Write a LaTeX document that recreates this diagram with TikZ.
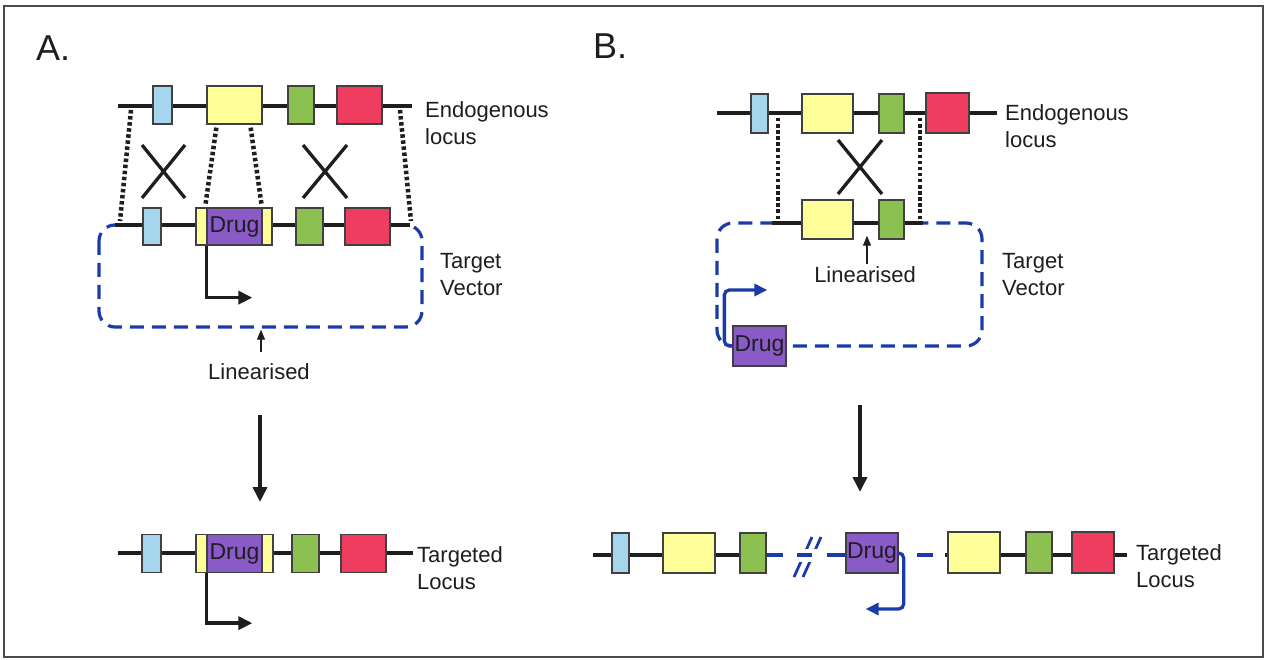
\documentclass[tikz,border=0pt]{standalone}
\usepackage{fontspec}
\setmainfont{Liberation Sans}
\usetikzlibrary{arrows.meta,calc}
\definecolor{gblue}{HTML}{A6D6EE}
\definecolor{gyellow}{HTML}{FFFF99}
\definecolor{ggreen}{HTML}{8CC152}
\definecolor{gred}{HTML}{EE3D5F}
\definecolor{gdrug}{HTML}{8A5AC6}
\definecolor{vblue}{HTML}{1B3BA8}
\definecolor{ink}{HTML}{1E1E22}

\begin{document}
\begin{tikzpicture}[x=1pt,y=-1pt,
  locus/.style={line width=3.5pt, draw=ink},
  gene/.style={draw=ink!85, line width=1.3pt, inner sep=0pt, minimum height=38pt},
  drugbox/.style={gene, fill=gdrug, font=\fontsize{23}{23}\selectfont, text=ink},
  label/.style={font=\fontsize{22}{27}\selectfont, text=ink, align=left, anchor=west, inner sep=0pt},
  centred/.style={font=\fontsize{22}{27}\selectfont, text=ink, inner sep=0pt},
  panel/.style={font=\fontsize{36}{36}\selectfont, text=ink, anchor=west, inner sep=0pt},
  homol/.style={line width=4.5pt, draw=ink, dash pattern=on 3.5pt off 2.6pt},
  cross/.style={line width=3.3pt, draw=ink},
  vector/.style={line width=3.2pt, draw=vblue, dash pattern=on 14pt off 8pt, rounded corners=16pt},
  promoter/.style={line width=3.5pt, draw=ink, -{Triangle[length=14pt,width=13pt]}},
  vpromoter/.style={line width=3.3pt, draw=vblue, rounded corners=5pt, -{Triangle[length=13pt,width=12pt]}},
  pointer/.style={line width=1.3pt, draw=ink, -{Triangle[length=10pt,width=8pt]}},
  flow/.style={line width=4.5pt, draw=ink, -{Triangle[length=15pt,width=14pt]}},
  vlink/.style={line width=3.3pt, draw=vblue}
]
\useasboundingbox (0,0) rectangle (1269,660);
\fill[white] (0,0) rectangle (1269,660);
\draw[line width=2pt, draw=ink!80] (4,6) rectangle (1263,657);

% ---------------- Panel A ----------------
\node[panel] (labA) at (36,48) {A.};

% endogenous locus
\coordinate (aTopL) at (118,106);
\coordinate (aTopR) at (412,106);
\draw[locus] (aTopL) -- (aTopR);
\node[gene, fill=gblue,   minimum width=19pt] (aT1) at (162.5,105) {};
\node[gene, fill=gyellow, minimum width=55pt] (aT2) at (234.5,105) {};
\node[gene, fill=ggreen,  minimum width=26pt] (aT3) at (301,105) {};
\node[gene, fill=gred,    minimum width=45pt] (aT4) at (359.5,105) {};
\node[label] (aEndo) at (425,123) {Endogenous\\locus};

% target vector
\draw[vector] (99,225) rectangle (422,327);
\coordinate (aVecL) at (115,225);
\coordinate (aVecR) at (410,225);
\draw[locus] (aVecL) -- (aVecR);
\node[gene, fill=gblue,   minimum width=18pt, minimum height=37pt] (aV1) at (152,226.5) {};
\node[gene, fill=gyellow, minimum width=11pt, minimum height=37pt] (aV2) at (201.5,226.5) {};
\node[drugbox, minimum width=55pt, minimum height=37pt] (aVd) at (234.5,226.5) {Drug};
\node[gene, fill=gyellow, minimum width=10pt, minimum height=37pt] (aV3) at (267,226.5) {};
\node[gene, fill=ggreen,  minimum width=27pt, minimum height=37pt] (aV4) at (309.5,226.5) {};
\node[gene, fill=gred,    minimum width=45pt, minimum height=37pt] (aV5) at (367.5,226.5) {};
\node[label] (aTV) at (440,275) {Target\\Vector};

% homology arms
\coordinate (aH1) at (131,110);
\coordinate (aH4) at (400,110);
\draw[homol] (aH1) -- ($(aVecL)+(5,-4)$);
\draw[homol] ($(aT2.south west)+(10,3)$) -- ($(aVd.north west)+(-1,-2)$);
\draw[homol] ($(aT2.south east)+(-12,3)$) -- ($(aVd.north east)+(-1,-2)$);
\draw[homol] (aH4) -- ($(aVecR)+(1,-4)$);

% crossovers
\draw[cross] (142,145) -- (185,198) (142,198) -- (185,145);
\draw[cross] (303,145) -- (347,198) (303,198) -- (347,145);

% promoter
\draw[promoter] (aVd.south west) -- ++(0,52) -- ++(46,0);

% linearisation site
\node[centred] (aLin) at (259,372) {Linearised};
\draw[pointer] ($(aLin.north)+(2,-12)$) -- ++(0,-22);

% outcome
\coordinate (aFlowS) at (260,415);
\coordinate (aFlowE) at (260,502);
\draw[flow] (aFlowS) -- (aFlowE);

\coordinate (cL) at (118,553);
\coordinate (cR) at (413,553);
\draw[locus] (cL) -- (cR);
\node[gene, fill=gblue,   minimum width=19pt] (cA1) at (151.5,553.5) {};
\node[gene, fill=gyellow, minimum width=11pt] (cA2) at (201.5,553.5) {};
\node[drugbox, minimum width=55pt] (cAd) at (234.5,553.5) {Drug};
\node[gene, fill=gyellow, minimum width=11pt] (cA3) at (267.5,553.5) {};
\node[gene, fill=ggreen,  minimum width=27pt] (cA4) at (305.5,553.5) {};
\node[gene, fill=gred,    minimum width=45pt] (cA5) at (363.5,553.5) {};
\node[label] (cTL) at (417,568) {Targeted\\Locus};
\draw[promoter] (cAd.south west) -- ++(0,50) -- ++(46,0);

% ---------------- Panel B ----------------
\node[panel] (labB) at (593,46) {B.};

% endogenous locus
\coordinate (bTopL) at (717,113);
\coordinate (bTopR) at (997,113);
\draw[locus] (bTopL) -- (bTopR);
\node[gene, fill=gblue,   minimum width=17pt, minimum height=39pt] (bT1) at (759.5,113.5) {};
\node[gene, fill=gyellow, minimum width=51pt, minimum height=39pt] (bT2) at (827.5,113.5) {};
\node[gene, fill=ggreen,  minimum width=25pt, minimum height=39pt] (bT3) at (891.5,113.5) {};
\node[gene, fill=gred,    minimum width=43pt, minimum height=40pt] (bT4) at (947.5,113) {};
\node[label] (bEndo) at (1005,126) {Endogenous\\locus};

% target vector
\draw[vector] (717,223) rectangle (982,346);
\coordinate (bVecL) at (772,223);
\coordinate (bVecR) at (923,223);
\draw[locus] (bVecL) -- (bVecR);
\node[gene, fill=gyellow, minimum width=51pt, minimum height=39pt] (bV2) at (827.5,219.5) {};
\node[gene, fill=ggreen,  minimum width=25pt, minimum height=39pt] (bV3) at (891.5,219.5) {};
\node[label] (bTV) at (1002,274.5) {Target\\Vector};

% homology arms and crossover
\coordinate (bH1) at (778,118);
\coordinate (bH2) at (920,118);
\draw[homol] (bH1) -- ($(bH1 |- bVecL)+(0,-2)$);
\draw[homol] (bH2) -- ($(bH2 |- bVecR)+(0,-2)$);
\draw[cross] (838,140) -- (882,194) (838,194) -- (882,140);

% linearisation site
\node[centred] (bLin) at (865,275) {Linearised};
\draw[pointer] ($(bLin.north)+(2,-3)$) -- ++(0,-28);

% selectable drug cassette with its promoter
\node[drugbox, minimum width=53pt, minimum height=40pt] (bD) at (759.5,346) {Drug};
\draw[vpromoter] (bD.west) -- ++(-8,0) -- ++(0,-56) -- ++(43,0);

% outcome
\coordinate (bFlowS) at (860,405);
\coordinate (bFlowE) at (860,492);
\draw[flow] (bFlowS) -- (bFlowE);

% targeted locus: endogenous part on the left
\coordinate (dL) at (593,555);
\coordinate (dLe) at (745,555);
\draw[locus] (dL) -- (dLe);
\node[gene, fill=gblue,   minimum width=17pt, minimum height=40pt] (dB1) at (620.5,553) {};
\node[gene, fill=gyellow, minimum width=52pt, minimum height=40pt] (dB2) at (689,553) {};
\node[gene, fill=ggreen,  minimum width=26pt, minimum height=40pt] (dB3) at (753,553) {};

% inserted vector sequence (blue), with a break symbol
\draw[vlink] (dB3.east |- dL) -- ++(16,0);
\draw[vlink, line width=2.8pt] (794,577) -- (812,537) (803,577) -- (821,537);
\fill[white] (788,549) rectangle (828,561.5);
\draw[vlink] (797,555) -- (812,555);
\draw[vlink] (827,555) -- (845,555);
\node[drugbox, minimum width=52pt, minimum height=40pt] (dBd) at (872,553) {Drug};
\draw[vlink] (917,555) -- (933,555);

% targeted locus: endogenous part on the right
\coordinate (dRs) at (945,555);
\coordinate (dR) at (1127,555);
\draw[locus] (dRs) -- (dR);
\node[gene, fill=gyellow, minimum width=52pt, minimum height=41pt] (dB4) at (974,552.5) {};
\node[gene, fill=ggreen,  minimum width=26pt, minimum height=41pt] (dB5) at (1039,552.5) {};
\node[gene, fill=gred,    minimum width=42pt, minimum height=41pt] (dB6) at (1093,552.5) {};
\node[label] (dTL) at (1136,566) {Targeted\\Locus};

\draw[vpromoter] (dBd.east) -- ++(5,0) -- ++(0,56) -- ++(-38,0);
\end{tikzpicture}
\end{document}
